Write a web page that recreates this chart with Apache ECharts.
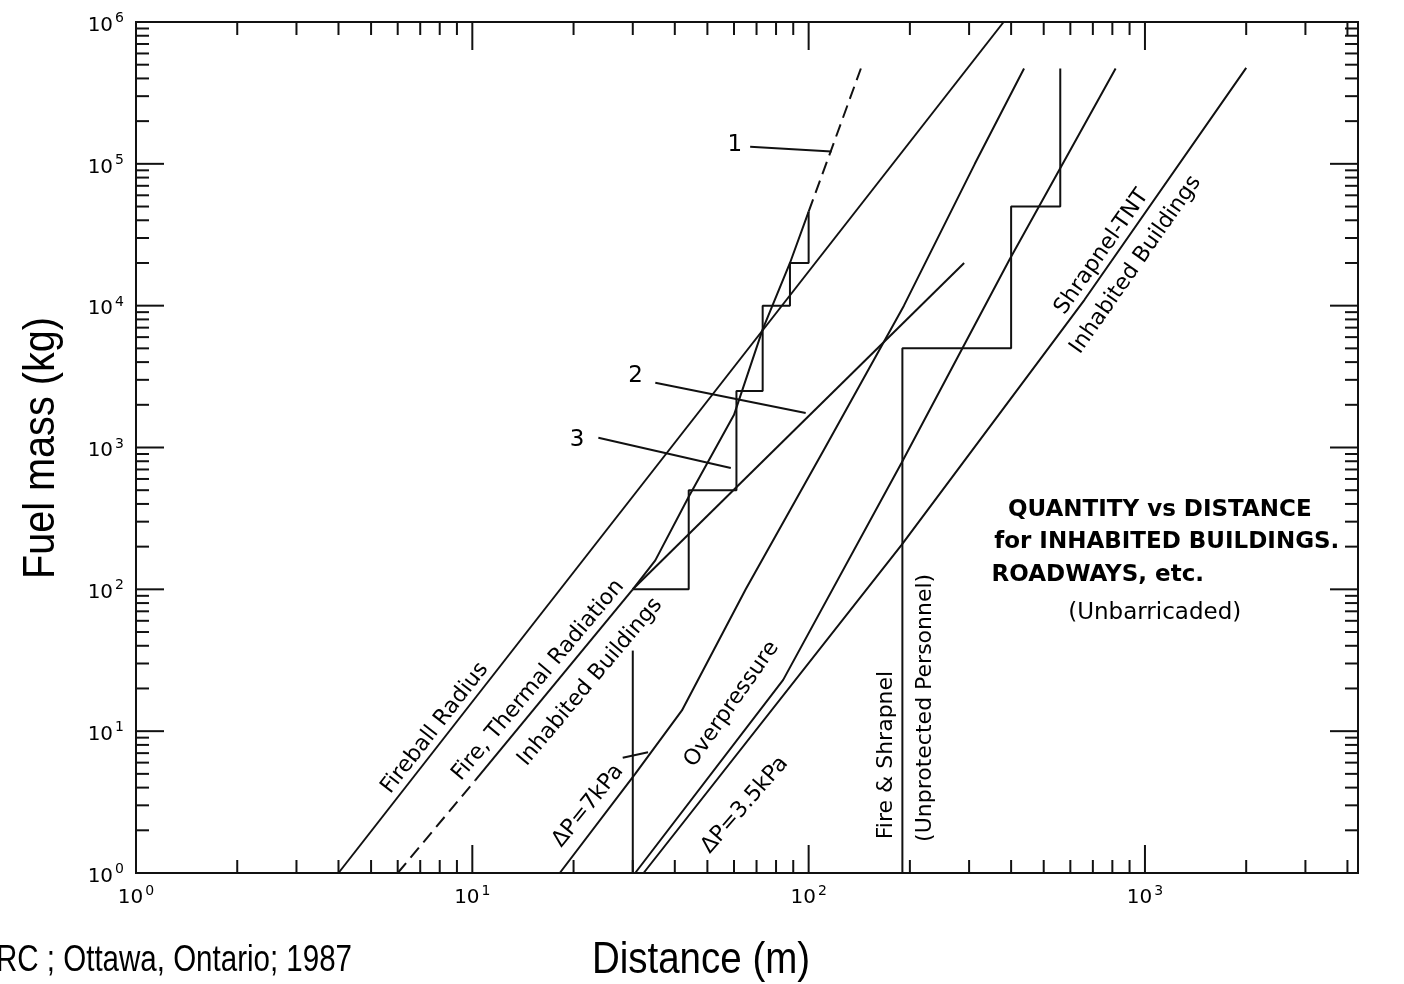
<!DOCTYPE html>
<html><head><meta charset="utf-8">
<script src="https://cdn.jsdelivr.net/npm/echarts@6/dist/echarts.min.js"></script>
<style>html,body{margin:0;padding:0;background:#fff}#c{width:1404px;height:984px}</style>
</head><body><div id="c"></div>
<script>
// ---------- axis ranges / tick labels ----------
const xExponents = [0, 1, 2, 3];
const yExponents = [0, 1, 2, 3, 4, 5, 6];
const minorMultipliers = [2, 3, 4, 5, 6, 7, 8, 9];
const xMin = 1, xMax = 4300, yMin = 1, yMax = 1e6;

// ---------- curves: [distance m, fuel mass kg] ----------
const fireballRadius = [[4.0, 1], [380, 1e6]];
const thermalDashed = [[6.0, 1], [10.2, 4.5]];
const thermalSolid = [[10.2, 4.5], [30, 100]];
const code1Solid = [[30, 100], [35, 160], [44, 450], [60, 1700], [73, 6800], [88, 20000], [100, 46000]];
const code1Dashed = [[100, 46000], [120, 150000], [143, 470000]];
const code2 = [[30, 100], [290, 20000]];
const code3Base = [[30, 1], [30, 37]];
const code3Steps = [[30, 100], [44, 100], [44, 500], [61, 500], [61, 2500], [73, 2500], [73, 10000], [88, 10000], [88, 20000], [100, 20000], [100, 46000]];
const overpressure7kPa = [[18.2, 1], [30.5, 5], [42, 14], [65, 100], [112, 1000], [192, 10000], [312, 100000], [437, 470000]];
const overpressure3_5kPa = [[30.5, 1], [84, 23], [189, 780], [395, 21000], [818, 470000]];
const shrapnelTNT = [[32.3, 1], [189, 206], [661, 11000], [2000, 475000]];
const fireShrapnelSteps = [[190, 1], [190, 5000], [400, 5000], [400, 50000], [560, 50000], [560, 470000]];
const leader1 = [[67, 132000], [117, 122000]];
const leader2 = [[35, 2860], [98, 1750]];
const leader3 = [[23.7, 1170], [58.7, 718]];
const leader7kPa = [[28, 6.5], [33.3, 7.1]];

// ---------- annotation texts: [text, distance, mass] ----------
const lineLabels = [
  ['Fireball Radius', 7.74, 10.5],
  ['Fire, Thermal Radiation', 15.7, 22.9],
  ['Inhabited Buildings', 22.4, 22.2],
  ['ΔP=7kPa', 22.1, 2.97],
  ['Overpressure', 59.1, 15.5],
  ['ΔP=3.5kPa', 64.6, 3.01],
  ['Fire & Shrapnel', 170, 6.79],
  ['(Unprotected Personnel)', 223, 14.6],
  ['Shrapnel-TNT', 744, 23900],
  ['Inhabited Buildings', 939, 19400]
];
const codeNumbers = [['1', 60.3, 136000], ['2', 30.6, 3190], ['3', 20.5, 1130]];
const noteLines = [
  ['QUANTITY vs DISTANCE', 1107, 362],
  ['for INHABITED BUILDINGS.', 1161, 216],
  ['ROADWAYS, etc.', 350, 126],
  ['(Unbarricaded)', 1069, 68.1]
];

// ---------- styles (kept apart from data) ----------
const labelRotation = [52, 50, 50, 51, 55, 49, 90, 90, 55, 55];
const noteStyles = [
  {fontWeight: 'bold', fontSize: 23, align: 'center'},
  {fontWeight: 'bold', fontSize: 23, align: 'center'},
  {fontWeight: 'bold', fontSize: 23, align: 'left'},
  {fontWeight: 'normal', fontSize: 23, align: 'center'}
];
const INK = '#111111';
const LW = 2;

function lineSeries(data, dashed) {
  return {
    type: 'line', data: data, showSymbol: false, symbol: 'none', silent: true,
    lineStyle: {color: INK, width: LW, type: dashed ? [13, 7] : 'solid', opacity: 1},
    z: 3, animation: false
  };
}

// tick marks (axis decoration), drawn through the axis scales
const tickData = [];
function pushTick(v, side, major) {
  if (side === 0) tickData.push([v, yMin, 0, major]);
  if (side === 1) tickData.push([v, yMax, 1, major]);
  if (side === 2) tickData.push([xMin, v, 2, major]);
  if (side === 3) tickData.push([xMax, v, 3, major]);
}
xExponents.forEach(function (e) {
  const base = Math.pow(10, e);
  if (e > 0) { pushTick(base, 0, 1); pushTick(base, 1, 1); }
  minorMultipliers.forEach(function (m) {
    const v = m * base;
    if (v < xMax) { pushTick(v, 0, 0); pushTick(v, 1, 0); }
  });
});
yExponents.forEach(function (e) {
  const base = Math.pow(10, e);
  if (e > 0 && e < 6) { pushTick(base, 2, 1); pushTick(base, 3, 1); }
  if (e < 6) minorMultipliers.forEach(function (m) {
    const v = m * base;
    pushTick(v, 2, 0); pushTick(v, 3, 0);
  });
});

function powLabel(v) {
  const lg = Math.log10(v);
  const e = Math.round(lg);
  if (Math.abs(lg - e) > 1e-6) return '';
  return '{b|10}{s|' + e + '}';
}
const richPow = {
  b: {fontFamily: 'DejaVu Sans', fontSize: 20, color: '#000', padding: [7, 0, 0, 0], lineHeight: 21},
  s: {fontFamily: 'DejaVu Sans', fontSize: 14, color: '#000', verticalAlign: 'top', lineHeight: 15, padding: [0, 0, 0, 2]}
};

const labelData = lineLabels.map(function (d, i) {
  return {name: d[0], value: [d[1], d[2]], label: {rotate: labelRotation[i]}};
});
const numberData = codeNumbers.map(function (d) { return {name: d[0], value: [d[1], d[2]]}; });
const noteData = noteLines.map(function (d, i) {
  return {name: d[0], value: [d[1], d[2]], label: noteStyles[i]};
});

function textSeries(data, font, size) {
  return {
    type: 'scatter', data: data, symbolSize: 1, silent: true, z: 5,
    itemStyle: {color: 'rgba(0,0,0,0)', opacity: 1},
    label: {show: true, position: 'inside', formatter: '{b}', color: '#000', opacity: 1,
      fontFamily: font, fontSize: size, align: 'center', verticalAlign: 'middle'},
    emphasis: {disabled: true},
    animation: false
  };
}

const chart = echarts.init(document.getElementById('c'), null, {renderer: 'canvas'});
chart.setOption({
  animation: false,
  backgroundColor: '#ffffff',
  grid: {left: 136, right: 46, top: 22, bottom: 111, show: true, borderColor: INK, borderWidth: 2,
    backgroundColor: 'rgba(0,0,0,0)', containLabel: false, outerBoundsMode: 'none'},
  xAxis: {type: 'log', logBase: 10, min: xMin, max: xMax,
    axisLine: {show: false}, axisTick: {show: false}, splitLine: {show: false}, minorTick: {show: false},
    axisLabel: {show: true, margin: 11, formatter: powLabel, rich: richPow, showMinLabel: true, showMaxLabel: false}},
  yAxis: {type: 'log', logBase: 10, min: yMin, max: yMax,
    axisLine: {show: false}, axisTick: {show: false}, splitLine: {show: false}, minorTick: {show: false},
    axisLabel: {show: true, margin: 12, formatter: powLabel, rich: richPow, showMinLabel: true, showMaxLabel: true}},
  graphic: [
    {type: 'text', x: 42, y: 448, rotation: Math.PI / 2, scaleX: 0.9,
      style: {text: 'Fuel mass (kg)', font: '44px "Liberation Sans", Arial, sans-serif', fill: '#000',
        textAlign: 'center', textVerticalAlign: 'middle'}},
    {type: 'text', x: 701, y: 961, scaleX: 0.875,
      style: {text: 'Distance (m)', font: '44px "Liberation Sans", Arial, sans-serif', fill: '#000',
        textAlign: 'center', textVerticalAlign: 'middle'}},
    {type: 'text', x: -4, y: 961, scaleX: 0.82,
      style: {text: 'RC ; Ottawa, Ontario; 1987', font: '36px "Liberation Sans", Arial, sans-serif', fill: '#000',
        textAlign: 'left', textVerticalAlign: 'middle'}}
  ],
  series: [
    lineSeries(fireballRadius),
    lineSeries(thermalDashed, true),
    lineSeries(thermalSolid),
    lineSeries(code1Solid),
    lineSeries(code1Dashed, true),
    lineSeries(code2),
    lineSeries(code3Base),
    lineSeries(code3Steps),
    lineSeries(overpressure7kPa),
    lineSeries(overpressure3_5kPa),
    lineSeries(shrapnelTNT),
    lineSeries(fireShrapnelSteps),
    lineSeries(leader1),
    lineSeries(leader2),
    lineSeries(leader3),
    lineSeries(leader7kPa),
    {
      type: 'custom', data: tickData, silent: true, z: 4, clip: false, animation: false,
      encode: {x: 0, y: 1},
      renderItem: function (params, api) {
        const p = api.coord([api.value(0), api.value(1)]);
        const side = api.value(2);
        const len = api.value(3) ? 28 : 13;
        let x2 = p[0], y2 = p[1];
        if (side === 0) y2 = p[1] - len;
        else if (side === 1) y2 = p[1] + len;
        else if (side === 2) x2 = p[0] + len;
        else x2 = p[0] - len;
        return {type: 'line', shape: {x1: p[0], y1: p[1], x2: x2, y2: y2},
          style: {stroke: INK, lineWidth: 2}};
      }
    },
    textSeries(labelData, '"DejaVu Sans", sans-serif', 22),
    textSeries(numberData, '"DejaVu Sans", sans-serif', 23),
    textSeries(noteData, '"DejaVu Sans", sans-serif', 23)
  ]
});
</script>
</body></html>
